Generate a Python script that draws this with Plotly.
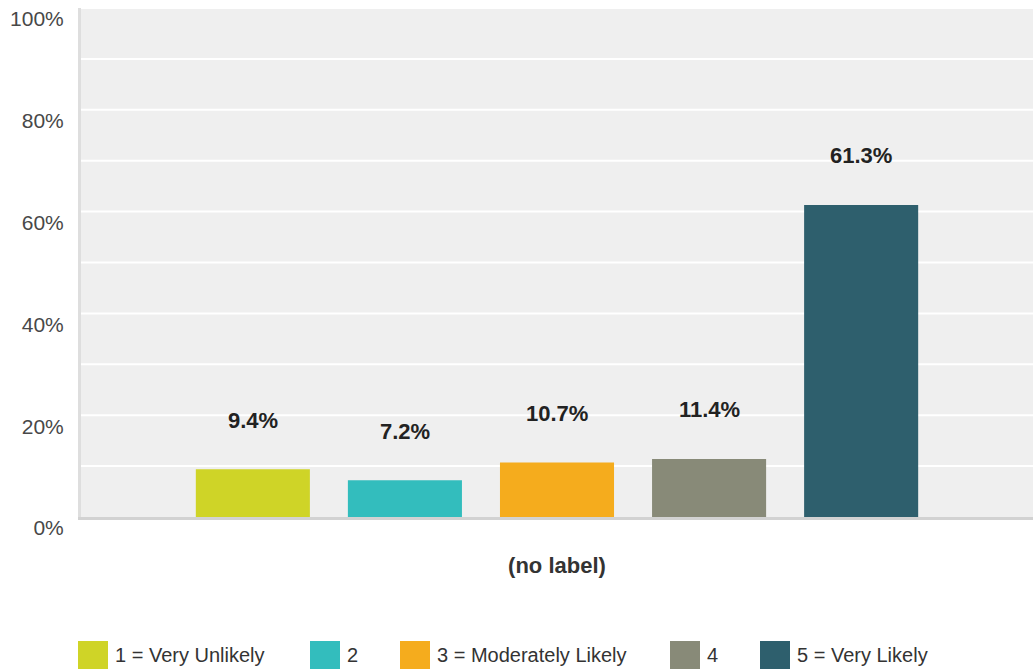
import plotly.graph_objects as go

series_names = ["1 = Very Unlikely", "2", "3 = Moderately Likely", "4", "5 = Very Likely"]
values = [9.4, 7.2, 10.7, 11.4, 61.3]
colors = ["#cfd427", "#33bdbd", "#f5ac1d", "#888a78", "#2e5f6d"]
category_label = "(no label)"
y_tick_values = [0, 20, 40, 60, 80, 100]
y_tick_labels = ["0%", "20%", "40%", "60%", "80%", "100%"]

FONT = "Liberation Sans, Arial, sans-serif"

W, H = 1034, 669
ML, MR, MT, MB = 81, 1, 8, 152
PW, PH = W - ML - MR, H - MT - MB


def px_x(px):
    return (px - ML) / PW


def px_y(py):
    return (H - MB - py) / PH


fig = go.Figure()
for i, (name, v, c) in enumerate(zip(series_names, values, colors)):
    fig.add_trace(go.Bar(
        x=[i], y=[v], name=name, marker=dict(color=c, line=dict(width=0)),
        width=0.75, hoverinfo="skip", showlegend=False,
    ))
    fig.add_annotation(
        x=i, y=v, text=f"<b>{v:.1f}%</b>", showarrow=False,
        yshift=49, font=dict(family=FONT, size=22, color="#222222"),
    )

# legend (drawn below the plot)
legend_swatch_left = [78, 310, 400, 670, 760]
for name, c, sx in zip(series_names, colors, legend_swatch_left):
    fig.add_shape(
        type="rect", xref="paper", yref="paper",
        x0=px_x(sx), x1=px_x(sx + 30), y0=px_y(641), y1=px_y(671),
        fillcolor=c, line=dict(width=0),
    )
    fig.add_annotation(
        xref="paper", yref="paper", x=px_x(sx + 35), y=px_y(655),
        xanchor="left", yanchor="middle", text=name, showarrow=False,
        font=dict(family=FONT, size=20, color="#333333"),
    )

fig.update_layout(
    width=W, height=H,
    margin=dict(l=ML, r=MR, t=MT, b=MB),
    paper_bgcolor="white", plot_bgcolor="#efefef",
    barmode="overlay",
    font=dict(family=FONT, size=21, color="#484848"),
    showlegend=False,
    xaxis=dict(
        range=[-1.13, 5.13], showticklabels=False, showgrid=False, zeroline=False,
        showline=True, linecolor="#d2d2d2", linewidth=3, ticks="", automargin=False,
        title=dict(text=f"<b>{category_label}</b>", standoff=39,
                   font=dict(family=FONT, size=22, color="#333333")),
    ),
    yaxis=dict(
        range=[0, 100], tickvals=y_tick_values, ticktext=y_tick_labels,
        showgrid=False, zeroline=False, showline=True, linecolor="#dedede", linewidth=3,
        ticks="outside", ticklen=10, tickcolor="rgba(0,0,0,0)",
        ticklabelshift=11, automargin=False,
    ),
)

for g in range(10, 101, 10):
    fig.add_hline(y=g, line=dict(color="white", width=2), layer="below")

fig.write_html(
    "out.html",
    config={"displayModeBar": False},
    post_script="document.body.style.margin='0';document.body.style.overflow='hidden';",
)
